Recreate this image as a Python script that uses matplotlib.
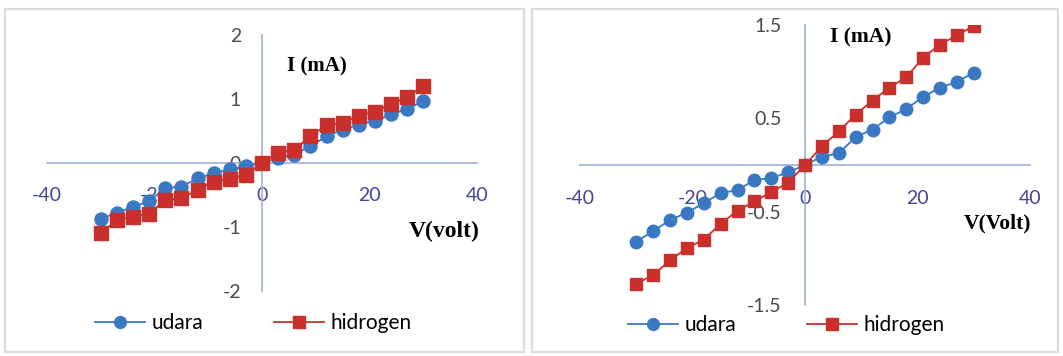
import matplotlib
matplotlib.use("Agg")
import matplotlib.pyplot as plt
from matplotlib.patches import Rectangle

# Applied voltage (V), common to both measurements
voltage = [-30, -27, -24, -21, -18, -15, -12, -9, -6, -3, 0,
           3, 6, 9, 12, 15, 18, 21, 24, 27, 30]

# Panel (a): current in mA
udara_a = [-0.87, -0.78, -0.68, -0.60, -0.39, -0.37, -0.24, -0.16, -0.10, -0.05, 0.0,
           0.08, 0.13, 0.26, 0.42, 0.52, 0.60, 0.66, 0.76, 0.84, 0.97]
hidrogen_a = [-1.10, -0.89, -0.84, -0.79, -0.58, -0.55, -0.42, -0.29, -0.25, -0.18, 0.0,
              0.16, 0.21, 0.42, 0.59, 0.63, 0.74, 0.80, 0.92, 1.03, 1.20]

# Panel (b): current in mA
udara_b = [-0.82, -0.71, -0.59, -0.51, -0.41, -0.30, -0.27, -0.16, -0.14, -0.08, 0.0,
           0.09, 0.125, 0.30, 0.38, 0.51, 0.60, 0.73, 0.83, 0.89, 0.99]
hidrogen_b = [-1.27, -1.18, -1.02, -0.89, -0.80, -0.63, -0.49, -0.39, -0.29, -0.19, 0.0,
              0.20, 0.36, 0.54, 0.69, 0.83, 0.94, 1.15, 1.29, 1.39, 1.49]

x_ticks = [-40, -20, 0, 20, 40]
y_ticks_a = [-2, -1, 0, 1, 2]
y_ticks_b = [-1.5, -0.5, 0.5, 1.5]

BLUE = "#3a78c4"
RED = "#c9302c"
AXIS = "#9db3cf"
XTICK = "#45459a"
YTICK = "#4a4a4a"
FRAME = "#dcdcdc"

W, H = 1063, 356
fig = plt.figure(figsize=(W / 100, H / 100), dpi=100)
fig.patch.set_facecolor("white")


def px_axes(x0, x1, ytop, ybot):
    return fig.add_axes([x0 / W, 1 - ybot / H, (x1 - x0) / W, (ybot - ytop) / H])


def frame(x0, x1, ytop, ybot):
    fig.patches.append(Rectangle((x0 / W, 1 - ybot / H), (x1 - x0) / W, (ybot - ytop) / H,
                                 transform=fig.transFigure, fill=False,
                                 edgecolor=FRAME, linewidth=1.6))


def panel(ax, ud, hi, ylim, yticks, xpad, ypad, ms):
    ax.plot(voltage, ud, color=BLUE, lw=1.3, marker="o", ms=ms,
            mfc=BLUE, mec=BLUE, zorder=3, label="udara")
    ax.plot(voltage, hi, color=RED, lw=1.3, marker="s", ms=ms,
            mfc=RED, mec=RED, zorder=4, label="hidrogen")
    ax.set_xlim(-40, 40)
    ax.set_ylim(*ylim)
    ax.set_facecolor("none")
    for s in ("top", "right"):
        ax.spines[s].set_visible(False)
    ax.spines["left"].set_position(("data", 0))
    ax.spines["bottom"].set_position(("data", 0))
    for s in ("left", "bottom"):
        ax.spines[s].set_color(AXIS)
        ax.spines[s].set_linewidth(1.2)
    ax.set_xticks(x_ticks)
    ax.set_xticklabels([str(v) for v in x_ticks])
    ax.set_yticks(yticks)
    ax.set_yticklabels([str(v) for v in yticks])
    ax.tick_params(axis="x", length=0, pad=xpad, colors=XTICK, labelsize=14)
    ax.tick_params(axis="y", length=0, pad=ypad, colors=YTICK, labelsize=14)
    for lab in ax.get_xticklabels() + ax.get_yticklabels():
        lab.set_fontfamily("Lato")


def legend(ax, x_left, y_center):
    leg = ax.legend(loc="center left", bbox_to_anchor=(x_left / W, 1 - y_center / H),
                    bbox_transform=fig.transFigure, ncol=2, frameon=False,
                    borderpad=0, borderaxespad=0, handlelength=2.4, handletextpad=0.3,
                    columnspacing=3.4, prop={"family": "Lato", "size": 15})
    for h in leg.legend_handles:
        h.set_markersize(8.5)


def title_px(x, y, s, size):
    fig.text(x / W, 1 - y / H, s, fontsize=size, fontweight="bold",
             family="Liberation Serif", va="center", ha="left")


# Panel frames
frame(5, 524, 9, 352)
frame(532, 1058, 9, 352)

# Left panel
ax1 = px_axes(47, 477, 35, 291)
panel(ax1, udara_a, hidrogen_a, (-2, 2), y_ticks_a, xpad=17, ypad=15, ms=9.4)
legend(ax1, 95, 323)

# Right panel
ax2 = px_axes(580, 1030, 25, 305)
panel(ax2, udara_b, hidrogen_b, (-1.5, 1.5), y_ticks_b, xpad=18, ypad=17, ms=9.0)
legend(ax2, 628, 325)

# Axis titles
title_px(287, 66, "I (mA)", 15)
title_px(409, 231, "V(volt)", 17)
title_px(830, 37, "I (mA)", 15.5)
title_px(964, 223, "V(Volt)", 15.5)

fig.savefig("out.png", dpi=100, facecolor="white")
